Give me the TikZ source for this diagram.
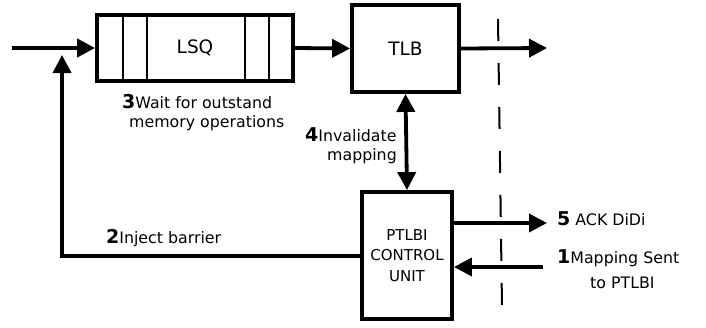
\documentclass[tikz,border=0pt]{standalone}
\usepackage{fontspec}
\setmainfont{DejaVu Sans}
\usetikzlibrary{arrows.meta}
\begin{document}
\begin{tikzpicture}[x=1pt,y=-1pt,
  box/.style={draw,line width=3.8pt,inner sep=0pt,font=\fontsize{18.5}{22}\selectfont},
  tip/.tip={Triangle[length=18pt,width=18pt]},
  conn/.style={line width=3.8pt,-tip},
  ann/.style={font=\fontsize{15.8}{20}\selectfont,inner sep=0pt},
  num/.style={font=\fontsize{16}{20}\selectfont\bfseries}]
\newcommand{\stepnum}[1]{\textbf{\fontsize{19}{20}\selectfont #1}}
\useasboundingbox (0,0) rectangle (706,327);
% LSQ
\node[box,minimum width=196pt,minimum height=66pt] (lsq) at (195,48) {LSQ};
\draw[line width=2pt] (123,15) -- (123,81) (147,15) -- (147,81) (245,15) -- (245,81) (269,15) -- (269,81);
% TLB
\node[box,minimum width=107pt,minimum height=87pt] (tlb) at (405.5,48.5) {TLB};
% PTLBI
\node[box,minimum width=90pt,minimum height=127pt,align=center,font=\fontsize{15}{20.5}\selectfont] (pt) at (407,255.5) {PTLBI\\CONTROL\\UNIT};
% dashed boundary
\draw[line width=2pt,dash pattern=on 22pt off 22pt] (498,19) -- (502,307);
% connectors
\coordinate (in) at (12,48);
\coordinate (out) at (547,48);
\draw[conn] (in) -- (lsq.west);
\draw[conn] (lsq.east) -- (tlb.west);
\draw[conn] (tlb.east) -- (out);
\draw[line width=3.8pt,tip-tip] (tlb.south) -- (pt.north);
\coordinate (fb) at (62,256);
\coordinate (fbtop) at (62,55);
\draw[conn] (pt.west |- fb) -- (fb) -- (fbtop);
\coordinate (ack) at (547,223);
\draw[conn] (pt.east |- ack) -- (ack);
\coordinate (map) at (543,267);
\draw[conn] (map) -- (pt.east |- map);
% labels
\node[ann,anchor=base west] (l3a) at (122,108) {\stepnum{3}Wait for outstand};
\node[ann,anchor=base west] (l3b) at (129,127) {memory operations};
\node[ann,anchor=base west] (l4a) at (305,141) {\stepnum{4}Invalidate};
\node[ann,anchor=base west] (l4b) at (327,160) {mapping};
\node[ann,anchor=base west] (l2) at (106,243) {\stepnum{2}Inject barrier};
\node[ann,anchor=base west] (l5) at (557,225) {\stepnum{5} ACK DiDi};
\node[ann,anchor=base west] (l1a) at (557,263) {\stepnum{1}Mapping Sent};
\node[ann,anchor=base west] (l1b) at (590,288) {to PTLBI};
\end{tikzpicture}
\end{document}
